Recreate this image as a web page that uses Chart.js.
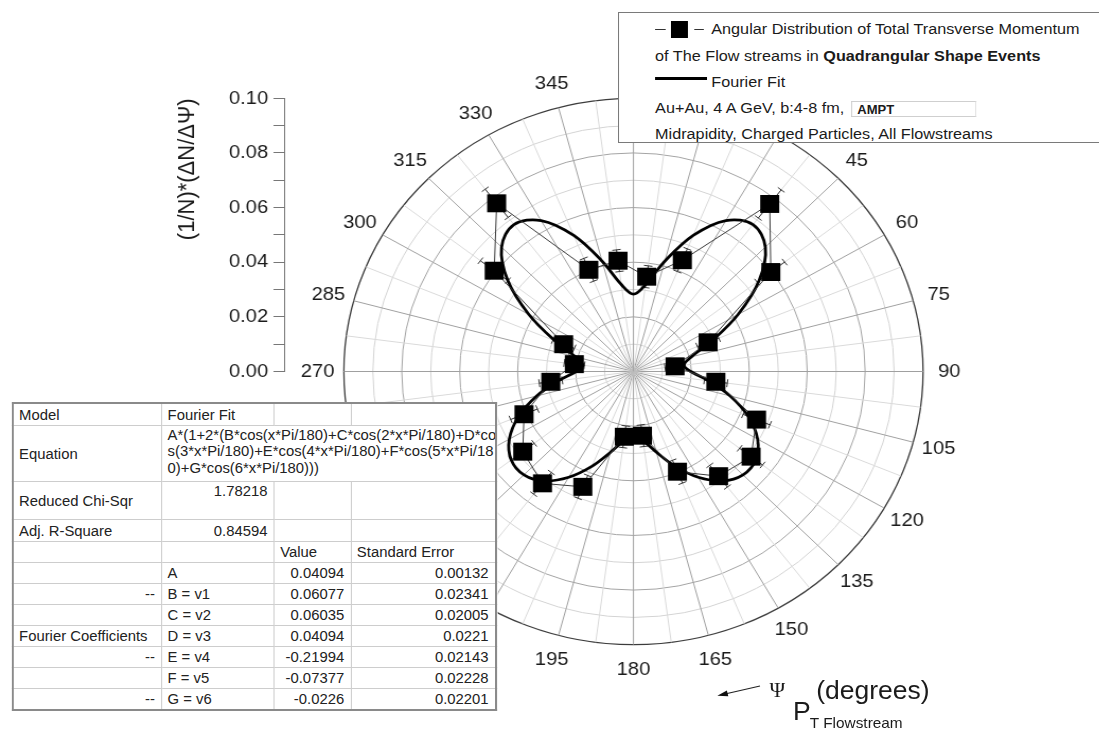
<!DOCTYPE html>
<html lang="en">
<head>
<meta charset="utf-8">
<title>Angular Distribution of Total Transverse Momentum</title>
<script src="https://cdn.jsdelivr.net/npm/chart.js@4.4.1/dist/chart.umd.min.js"></script>
<style>
  html, body { margin: 0; padding: 0; background: #fff; width: 1099px; height: 731px; overflow: hidden; }
  /* the reference is slightly wider than tall, so the whole page is drawn narrow and stretched */
  #page { position: absolute; left: 0; top: 0; width: 1037px; height: 731px;
          transform: scaleX(1.06); transform-origin: 0 0;
          font-family: "Liberation Sans", Arial, sans-serif; color: #1b1b1b; }
  #polar { position: absolute; left: 0; top: 0; }

  #legend-box { position: absolute; left: 583px; top: 12px; width: 470px; height: 129px;
                background: #fff; border: 1px solid #7a7a7a; font-size: 15.3px; }
  #legend-box .txt { position: absolute; height: 18px; line-height: 18px; white-space: nowrap; }
  #legend-box .thin { position: absolute; height: 1px; background: #333; }
  #legend-box .sq { position: absolute; width: 16px; height: 17px; background: #000; }
  #legend-box .thick { position: absolute; height: 3px; background: #000; }
  .ampt { display: inline-block; width: 118px; height: 16px; line-height: 16px; vertical-align: middle;
          margin-left: 2px; padding-left: 5px; border: 1px solid #cfcfcf; border-right-color: #e2e2e2;
          font-size: 12.3px; font-weight: bold; box-sizing: border-box; }

  #fit-table { position: absolute; left: 11px; top: 402px; width: 456px; border-collapse: collapse;
               table-layout: fixed; font-size: 14px; color: #222; border: 2px solid #8a8a8a;
               background: #fff; }
  #fit-table td { border: 1px solid #cdcdcd; padding: 0 6px 0 5px; white-space: nowrap; overflow: hidden; }
  #fit-table td.num { text-align: right; }
  #fit-table td.top { vertical-align: top; padding-top: 1px; }
  #fit-table td.eq { line-height: 16.2px; vertical-align: top; padding-top: 1px; }

  .note { position: absolute; white-space: nowrap; line-height: 1; }
</style>
</head>
<body>
<div id="page">
  <canvas id="polar" width="1037" height="731"></canvas>

  <div id="legend-box">
    <div class="thin" style="left:34px; top:16px; width:10px;"></div>
    <div class="sq" style="left:49px; top:8px;"></div>
    <div class="thin" style="left:71px; top:16px; width:9px;"></div>
    <div class="txt" style="left:87px; top:7px;">Angular Distribution of Total Transverse Momentum</div>
    <div class="txt" style="left:34px; top:34px;">of The Flow streams in <b>Quadrangular Shape Events</b></div>
    <div class="thick" style="left:34px; top:64px; width:49px;"></div>
    <div class="txt" style="left:87px; top:60px;">Fourier Fit</div>
    <div class="txt" style="left:34px; top:86px;">Au+Au, 4 A GeV, b:4-8 fm, <span class="ampt">AMPT</span></div>
    <div class="txt" style="left:34px; top:112px;">Midrapidity, Charged Particles, All Flowstreams</div>
  </div>

  <table id="fit-table">
    <colgroup><col style="width:140.6px"><col style="width:106.2px"><col style="width:72.4px"><col style="width:136.8px"></colgroup>
    <tr style="height:22.7px"><td>Model</td><td>Fourier Fit</td><td></td><td></td></tr>
    <tr style="height:56px"><td>Equation</td><td colspan="3" class="eq">A*(1+2*(B*cos(x*Pi/180)+C*cos(2*x*Pi/180)+D*co<br>s(3*x*Pi/180)+E*cos(4*x*Pi/180)+F*cos(5*x*Pi/18<br>0)+G*cos(6*x*Pi/180)))</td></tr>
    <tr style="height:38px"><td>Reduced Chi-Sqr</td><td class="num top">1.78218</td><td></td><td></td></tr>
    <tr style="height:21.7px"><td>Adj. R-Square</td><td class="num">0.84594</td><td></td><td></td></tr>
    <tr style="height:21px"><td></td><td></td><td>Value</td><td>Standard Error</td></tr>
    <tr style="height:21px"><td></td><td>A</td><td class="num">0.04094</td><td class="num">0.00132</td></tr>
    <tr style="height:21px"><td class="num">--</td><td>B = v1</td><td class="num">0.06077</td><td class="num">0.02341</td></tr>
    <tr style="height:21.3px"><td></td><td>C = v2</td><td class="num">0.06035</td><td class="num">0.02005</td></tr>
    <tr style="height:20.7px"><td>Fourier Coefficients</td><td>D = v3</td><td class="num">0.04094</td><td class="num">0.0221</td></tr>
    <tr style="height:21px"><td class="num">--</td><td>E = v4</td><td class="num">-0.21994</td><td class="num">0.02143</td></tr>
    <tr style="height:21px"><td></td><td>F = v5</td><td class="num">-0.07377</td><td class="num">0.02228</td></tr>
    <tr style="height:21.6px"><td class="num">--</td><td>G = v6</td><td class="num">-0.0226</td><td class="num">0.02201</td></tr>
  </table>

  <svg class="note" style="left:660px; top:675px;" width="70" height="30">
    <line x1="57" y1="11" x2="25" y2="18.7" stroke="#222" stroke-width="1"></line>
    <polygon points="16.7,20.7 25.7,15.5 27.1,21.3" fill="#111"></polygon>
  </svg>
  <span class="note" style="left:726px; top:680px; font-family:'Liberation Serif','DejaVu Serif',serif; font-size:20px;">&Psi;</span>
  <span class="note" style="left:748px; top:699px; font-size:25px;">P</span>
  <span class="note" style="left:764px; top:716px; font-size:14.5px;">T Flowstream</span>
  <span class="note" style="left:770px; top:678px; font-size:25px;">(degrees)</span>
</div>

<script>
// --- Chart data ---
// angle labels, one slot per 7.5 degrees, clockwise from the top
const angleLabels = ['0', '', '15', '', '30', '', '45', '', '60', '', '75', '', '90', '', '105', '',
  '120', '', '135', '', '150', '', '165', '', '180', '', '195', '', '210', '', '225', '',
  '240', '', '255', '', '270', '', '285', '', '300', '', '315', '', '330', '', '345', ''];
const ANGLE_STEP = 7.5;

// measured points (bin centres) and their errors
const psiAngles = [7.5, 22.5, 37.5, 52.5, 67.5, 82.5, 97.5, 112.5, 127.5, 142.5, 157.5, 172.5,
  187.5, 202.5, 217.5, 232.5, 247.5, 262.5, 277.5, 292.5, 307.5, 322.5, 337.5, 352.5];
const dist = [0.0350, 0.0441, 0.0773, 0.0598, 0.0279, 0.0145, 0.0287, 0.0460, 0.0512, 0.0483, 0.0397, 0.0237,
  0.0241, 0.0457, 0.0516, 0.0482, 0.0409, 0.0288, 0.0206, 0.0261, 0.0606, 0.0776, 0.0403, 0.0409];
const distErr = [0.0040, 0.0045, 0.0065, 0.0060, 0.0040, 0.0035, 0.0040, 0.0050, 0.0050, 0.0050, 0.0045, 0.0040,
  0.0040, 0.0045, 0.0050, 0.0050, 0.0050, 0.0040, 0.0035, 0.0040, 0.0060, 0.0065, 0.0045, 0.0040];

const fitValues = [0.0283, 0.0321, 0.0418, 0.0539, 0.0638, 0.0678, 0.0644, 0.0547, 0.0417, 0.0294, 0.0207, 0.0176,
  0.0198, 0.0262, 0.0346, 0.0429, 0.0495, 0.0532, 0.0535, 0.0505, 0.0447, 0.0376, 0.0306, 0.0256,
  0.0237, 0.0256, 0.0306, 0.0376, 0.0447, 0.0505, 0.0535, 0.0532, 0.0495, 0.0429, 0.0346, 0.0262,
  0.0198, 0.0176, 0.0207, 0.0294, 0.0417, 0.0547, 0.0644, 0.0678, 0.0638, 0.0539, 0.0418, 0.0321];

// labelled values of the radius axis
const yMajorTicks = [0, 0.02, 0.04, 0.06, 0.08, 0.10];

// --- Layout of the polar area (page px, before the horizontal stretch) ---
const POLAR_CX = 597.6;
const POLAR_CY = 371.5;
const POLAR_R = 273.2;
const LABEL_R = 298;
const AXIS_TOP = POLAR_CY - POLAR_R;   // the side axis runs from r = 0.10 ...
const AXIS_BOTTOM = POLAR_CY;          // ... down to r = 0
const FONT = '"Liberation Sans", Arial, sans-serif';

Chart.defaults.font.family = FONT;
Chart.defaults.color = '#1b1b1b';

// one slot per label, the points sit in the odd (bin centre) slots
const pointData = angleLabels.map(() => null);
psiAngles.forEach((a, k) => { pointData[Math.round(a / ANGLE_STEP)] = dist[k]; });

// pin the polar area to the same centre/radius as the reference and centre the angle labels
function placePolar(scale) {
  scale.xCenter = POLAR_CX;
  scale.yCenter = POLAR_CY;
  scale.drawingArea = POLAR_R;
  const lh = 19 * 1.2;
  (scale._pointLabelItems || []).forEach((item, i) => {
    const a = scale.getIndexAngle(i) - Math.PI / 2;
    const x = POLAR_CX + Math.cos(a) * LABEL_R;
    const yMid = POLAR_CY + Math.sin(a) * LABEL_R;
    const w = item.right - item.left;
    const h = item.bottom - item.top;
    item.x = x;
    item.textAlign = 'center';
    item.left = x - w / 2;
    item.right = x + w / 2;
    item.y = yMid - lh / 2;
    item.top = item.y;
    item.bottom = item.y + h;
  });
}

// the side radius axis only covers the upper half of the polar area
const radiusAxisSpan = {
  id: 'radiusAxisSpan',
  afterLayout(chart) {
    const y = chart.scales.y;
    y.top = AXIS_TOP;
    y.bottom = AXIS_BOTTOM;
    y.height = AXIS_BOTTOM - AXIS_TOP;
    y._gridLineItems = null;
    y._labelItems = null;
    y.configure();
  }
};

// radial error bars with small caps
const errorBars = {
  id: 'errorBars',
  beforeDatasetsDraw(chart) {
    const scale = chart.scales.r;
    const ctx = chart.ctx;
    ctx.save();
    ctx.strokeStyle = '#333';
    ctx.lineWidth = 1;
    psiAngles.forEach((a, k) => {
      const idx = Math.round(a / ANGLE_STEP);
      const lo = scale.getPointPositionForValue(idx, dist[k] - distErr[k]);
      const hi = scale.getPointPositionForValue(idx, dist[k] + distErr[k]);
      const ang = scale.getIndexAngle(idx) - Math.PI / 2;
      const px = -Math.sin(ang) * 4, py = Math.cos(ang) * 4;
      ctx.beginPath();
      ctx.moveTo(lo.x, lo.y); ctx.lineTo(hi.x, hi.y);
      ctx.moveTo(lo.x - px, lo.y - py); ctx.lineTo(lo.x + px, lo.y + py);
      ctx.moveTo(hi.x - px, hi.y - py); ctx.lineTo(hi.x + px, hi.y + py);
      ctx.stroke();
    });
    ctx.restore();
  }
};

const ctx = document.getElementById('polar').getContext('2d');
const polarChart = new Chart(ctx, {
  type: 'radar',
  data: {
    labels: angleLabels,
    datasets: [
      {
        label: 'Angular Distribution of Total Transverse Momentum',
        data: pointData,
        spanGaps: true,
        fill: false,
        tension: 0,
        borderColor: '#3a3a3a',
        borderWidth: 1,
        pointStyle: 'rect',
        pointRadius: 12.7,
        pointBackgroundColor: '#000',
        pointBorderColor: '#000',
        pointBorderWidth: 0,
        clip: false
      },
      {
        label: 'Fourier Fit',
        data: fitValues,
        fill: false,
        tension: 0.35,
        borderColor: '#000',
        borderWidth: 2.8,
        pointRadius: 0,
        clip: false
      }
    ]
  },
  options: {
    responsive: false,
    animation: false,
    layout: { padding: { left: 161, top: 20, right: 20, bottom: 12 } },
    plugins: {
      legend: { display: false },
      tooltip: { enabled: false }
    },
    scales: {
      r: {
        min: 0,
        max: 0.1,
        startAngle: 0,
        ticks: { display: false, stepSize: 0.01 },
        grid: {
          circular: true,
          color: c => {
            const v = Math.round(c.tick.value * 100);
            if (v === 10) return '#3c3c3c';
            return v % 2 === 0 ? '#a4a4a4' : '#d4d4d4';
          },
          lineWidth: c => Math.round(c.tick.value * 100) === 10 ? 1.3 : 1
        },
        angleLines: {
          color: c => c.index % 2 === 0 ? '#a0a0a0' : '#dadada',
          lineWidth: 1
        },
        pointLabels: { font: { size: 19 }, color: '#1b1b1b', padding: 8 },
        afterFit: placePolar
      },
      y: {
        type: 'linear',
        position: 'left',
        min: 0,
        max: 0.1,
        afterFit(scale) { scale.width = 107; },
        ticks: {
          stepSize: 0.01,
          autoSkip: false,
          maxRotation: 0,
          padding: 5,
          color: '#1b1b1b',
          font: { size: 19 },
          callback: v => yMajorTicks.some(t => Math.abs(t - v) < 1e-6) ? v.toFixed(2) : ''
        },
        grid: { drawOnChartArea: false, drawTicks: true, tickLength: 10, color: '#777' },
        border: { display: true, color: '#777', width: 1 },
        title: {
          display: true,
          text: '(1/N)*(\u0394N/\u0394\u03A8)',
          align: 'end',
          color: '#1b1b1b',
          font: { size: 22 },
          padding: { top: 3, bottom: 0 }
        }
      }
    }
  },
  plugins: [radiusAxisSpan, errorBars]
});
</script>
</body>
</html>
